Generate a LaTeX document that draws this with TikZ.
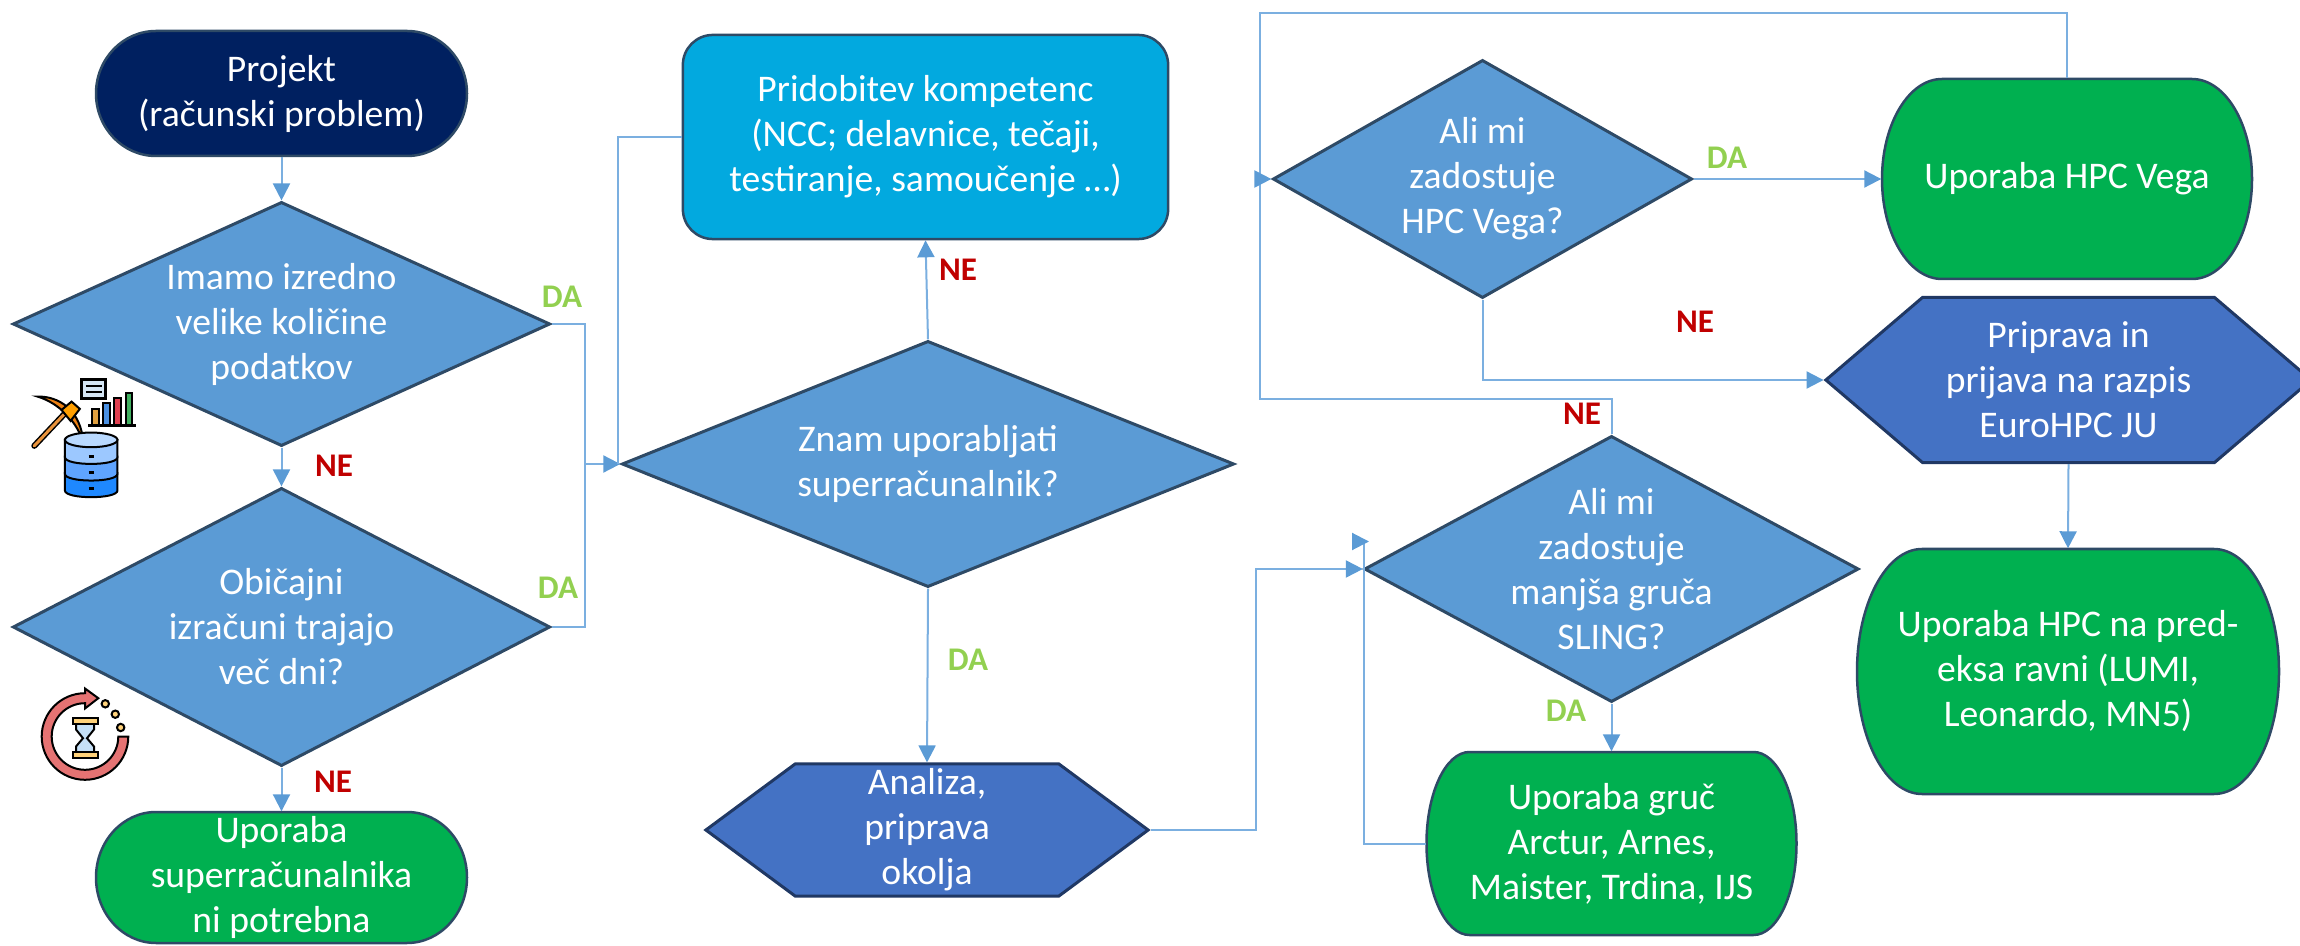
\documentclass[tikz,border=0pt]{standalone}
\usepackage{fontspec}
\setmainfont{Carlito}
\usetikzlibrary{arrows.meta,shapes.geometric,shapes.symbols}
\definecolor{qblue}{HTML}{5B9BD5}
\definecolor{linkblue}{HTML}{7BAFE0}
\definecolor{qedge}{HTML}{2E4A66}
\definecolor{hexblue}{HTML}{4472C4}
\definecolor{hexedge}{HTML}{203864}
\definecolor{termgreen}{HTML}{00B050}
\definecolor{termnavy}{HTML}{002060}
\definecolor{skillblue}{HTML}{02A9DF}
\definecolor{yesgreen}{HTML}{92D050}
\definecolor{nored}{HTML}{C00000}
\tikzset{
    boxtext/.style={align=center,text=white,inner sep=0pt,font=\fontsize{10.7}{12.8}\selectfont},
    question/.style={boxtext,diamond,draw=qedge,fill=qblue,line width=.03cm},
    prepare/.style={boxtext,signal,signal from=nowhere,signal to=east and west,draw=hexedge,fill=hexblue,line width=.03cm},
    terminal/.style={draw=qedge,line width=.025cm},
    conn/.style={draw=linkblue,line width=.02cm},
    yeslabel/.style={text=yesgreen,inner sep=0pt,font=\fontsize{9.4}{12}\bfseries\selectfont},
    nolabel/.style={text=nored,inner sep=0pt,font=\fontsize{9.4}{12}\bfseries\selectfont}
}
\begin{document}
\begin{tikzpicture}[x=.01cm, y=.01cm, >={Triangle[length=.17cm,width=.17cm,color=qblue]}]
\useasboundingbox (0,0) rectangle (2300,945);

\node (dataQ) at (281.5,621) [question,aspect=2.2,minimum width=5.37cm,minimum height=2.44cm]{Imamo izredno\\velike količine\\podatkov};
\node (daysQ) at (281.5,318) [question,aspect=1.93,minimum width=5.37cm,minimum height=2.78cm]{Običajni\\izračuni trajajo\\več dni?};
\node (useQ) at (928,481) [question,aspect=2.49,minimum width=6.12cm,minimum height=2.46cm]{Znam uporabljati\\superračunalnik?};
\node (vegaQ) at (1482.5,766) [question,aspect=1.76,minimum width=4.19cm,minimum height=2.38cm]{Ali mi\\zadostuje\\HPC Vega?};
\node (slingQ) at (1611.5,376) [question,aspect=1.86,inner sep=-.04cm,minimum width=4.94cm,minimum height=2.66cm]{Ali mi\\zadostuje\\manjša gruča\\SLING?};

\node (skills) at (925.5,808) [boxtext,draw=qedge,fill=skillblue,line width=.025cm,rounded corners=.3cm,minimum width=4.85cm,minimum height=2.04cm]{Pridobitev kompetenc\\(NCC; delavnice, tečaji,\\testiranje, samoučenje …)};

\node (setup) at (927,115) [prepare,signal pointer angle=73,minimum width=4.42cm,minimum height=1.32cm]{Analiza,\\priprava\\okolja};
\node (apply) at (2068.5,565) [prepare,signal pointer angle=81,minimum width=4.85cm,minimum height=1.65cm]{Priprava in\\prijava na razpis\\EuroHPC JU};

% terminators: name/x/y/width/height/corner/colour/text
\foreach \nm/\cx/\cy/\bw/\bh/\rx/\col/\txt in {
    start/281.5/851.5/371/125/60/termnavy/{Projekt\\(računski problem)},
    noneed/281.5/67.5/371/131/60/termgreen/{Uporaba\\superračunalnika\\ni potrebna},
    clusters/1611.5/101.5/370/183/43/termgreen/{Uporaba gruč\\Arctur, Arnes,\\Maister, Trdina, IJS},
    vegabox/2067/766/370/200/60/termgreen/{Uporaba HPC Vega},
    preexa/2068/273.5/422/245/65/termgreen/{Uporaba HPC na pred-\\eksa ravni (LUMI,\\Leonardo, MN5)}}
{
    \draw[terminal,fill=\col] (\cx-\bw/2,\cy) arc[start angle=180,end angle=90,x radius=\rx,y radius=\bh/2]
        -- ++(\bw-2*\rx,0) arc[start angle=90,end angle=0,x radius=\rx,y radius=\bh/2]
        arc[start angle=360,end angle=270,x radius=\rx,y radius=\bh/2]
        -- ++(2*\rx-\bw,0) arc[start angle=270,end angle=180,x radius=\rx,y radius=\bh/2] -- cycle;
    \node (\nm) at (\cx,\cy) [boxtext,minimum width=\bw*.01cm,minimum height=\bh*.01cm]{\txt};
}

\coordinate (merge) at (585,481);
\coordinate (skillsIn) at (618,481);
\coordinate (setupUp) at (1256,115);
\coordinate (loopTop) at (1260,932.4);
\coordinate (loopLow) at (1260,546);
\coordinate (loopIn) at (1260,766);
\coordinate (loopStub) at (1256,766);
\coordinate (slingUp) at (1364,403.5);
\coordinate (slingStubA) at (1352,403.5);
\coordinate (slingStubB) at (1369,403.5);

\draw[conn,->] (start)--(dataQ);
\draw[conn,->] (dataQ)--(daysQ);
\draw[conn,->] (daysQ)--(noneed);
\draw[conn] (dataQ.east) -| (merge);
\draw[conn] (daysQ.east) -| (merge);
\draw[conn,->] (merge)--(useQ.west);
\draw[conn] (skills.west) -| (skillsIn);
\draw[conn,->] (useQ.north)--(skills.south);
\draw[conn,->] (useQ.south)--(setup.north);
\draw[conn,->] (setup.east) -- (setupUp) |- (slingQ.west);
\draw[conn,->] (slingQ.south)--(clusters.north);
\draw[conn] (clusters.west) -| (slingUp);
\draw[conn,->] (slingStubA)--(slingStubB);
\draw[conn] (slingQ.north) |- (loopLow) -- (loopIn);
\draw[conn] (vegabox.north) |- (loopTop) -- (loopIn);
\draw[conn,->] (loopStub)--(vegaQ.west);
\draw[conn,->] (vegaQ.east)--(vegabox.west);
\draw[conn,->] (vegaQ.south) |- (apply.west);
\draw[conn,->] (apply.south)--(preexa.north);

\foreach \nm/\x/\y in {yesA/562/648,yesB/558/357,yesC/968/285,yesD/1727/787,yesE/1566/234}
{
    \node (\nm) at (\x,\y) [yeslabel]{DA};
}
\foreach \nm/\x/\y in {noA/334/479,noB/333/163,noC/958/675.5,noD/1695/623,noE/1582/531}
{
    \node (\nm) at (\x,\y) [nolabel]{NE};
}

% mining icon
\begin{scope}[shift={(0,585)},x=.00333cm,y=-.00333cm,line width=.02cm]
    \draw[line width=.06cm,line cap=round] (103,258)--(205,150);
    \draw[line width=.03cm,line cap=round,color=orange!60!brown!85!white] (103,258)--(205,150);
    \draw[fill=orange!70!brown] (113,110) .. controls (175,108) and (245,150) .. (250,250) .. controls (235,190) and (180,130) .. (113,110) -- cycle;
    \draw[fill=orange!75!yellow] (185,150)--(215,125)--(240,147)--(212,183)--cycle;
    \foreach \y/\col in {340/1E88FF,290/5FA4FF,240/9CC8FF}
    {
        \definecolor{bandcol}{HTML}{\col}
        \draw[fill=bandcol] (195,\y)--(195,\y+52) .. controls (195,\y+79) and (353,\y+79) .. (353,\y+52)--(353,\y)--cycle;
    }
    \definecolor{bandcol}{HTML}{B9D9FF}
    \draw[fill=bandcol] (274,240) ellipse [x radius=79,y radius=22];
    \foreach \y in {290,338,387}
    {
        \draw[line width=.03cm] (266,\y)--(282,\y);
    }
    \foreach \x/\y/\col in {287/148/E0A040,320/130/4A90E2,353/114/E04050,388/98/40B060}
    {
        \definecolor{bandcol}{HTML}{\col}
        \draw[fill=bandcol] (\x-10,195) rectangle (\x+10,\y);
    }
    \draw[line width=.025cm] (265,197)--(410,197);
    \definecolor{bandcol}{HTML}{D5E6F5}
    \draw[line width=.03cm,fill=bandcol] (245,60) rectangle (318,115);
    \draw (258,78)--(305,78);
    \draw (258,96)--(305,96);
\end{scope}

% waiting icon
\begin{scope}[shift={(85,208.5)},line width=.02cm]
    \definecolor{ringred}{HTML}{E57373}
    \definecolor{sandcol}{HTML}{FFD27A}
    \definecolor{glasscol}{HTML}{C5E0F7}
    \draw[fill=ringred] (43.3,0) arc[start angle=0,end angle=-270,radius=43.3] -- (0,48) -- (13.3,38.3) -- (0,28) -- (0,33.3) arc[start angle=-270,end angle=0,radius=33.3] -- cycle;
    \foreach \x/\y in {20.3/32.7,30.3/22.3,35.7/9}
    {
        \draw[fill=sandcol] (\x,\y) circle (3.7);
    }
    \draw[fill=glasscol] (-9,12.7)--(9,12.7)--(9,7) -- (2,-1.7) -- (9,-10) -- (9,-15.7)--(-9,-15.7)--(-9,-10)--(-2,-1.7)--(-9,7)--cycle;
    \draw[fill=sandcol] (-12.3,12.7) rectangle (12.7,18.3);
    \draw[fill=sandcol] (-12.3,-21) rectangle (12.7,-15.7);
\end{scope}
\end{tikzpicture}
\end{document}
